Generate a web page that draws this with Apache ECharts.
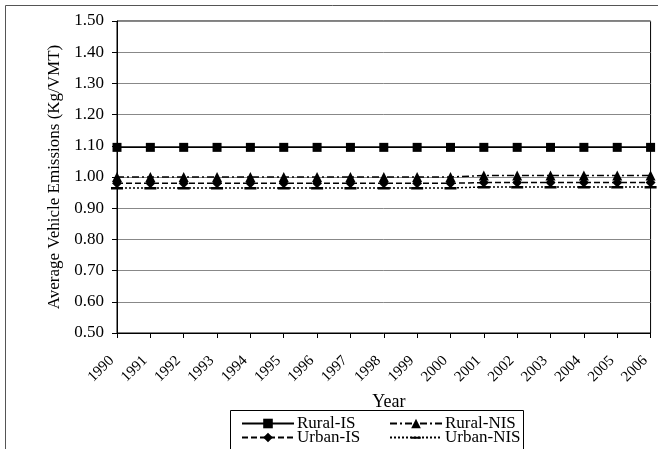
<!DOCTYPE html>
<html><head><meta charset="utf-8">
<script src="https://cdn.jsdelivr.net/npm/echarts@6/dist/echarts.min.js"></script>
<style>html,body{margin:0;padding:0;background:#fff}#c{width:658px;height:449px}</style>
</head><body><div id="c"></div>
<script>
var years = ['1990','1991','1992','1993','1994','1995','1996','1997','1998','1999','2000','2001','2002','2003','2004','2005','2006'];
var ruralIS  = [1.095,1.095,1.095,1.095,1.095,1.095,1.095,1.095,1.095,1.095,1.095,1.095,1.095,1.095,1.095,1.095,1.095];
var ruralNIS = [1.000,1.000,1.000,1.000,1.000,1.000,1.000,1.000,1.000,1.000,1.000,1.005,1.005,1.005,1.005,1.005,1.005];
var urbanIS  = [0.980,0.980,0.980,0.980,0.980,0.980,0.980,0.980,0.980,0.980,0.980,0.982,0.982,0.982,0.982,0.982,0.982];
var urbanNIS = [0.965,0.965,0.965,0.965,0.965,0.965,0.965,0.965,0.965,0.965,0.965,0.968,0.968,0.968,0.968,0.968,0.968];
var yTicks = {min:0.5, max:1.5, interval:0.1};

var F = 'Liberation Serif, Times New Roman, serif';
var chart = echarts.init(document.getElementById('c'), null, {renderer:'canvas'});
function ser(name, data, type, symbol, size) {
  return {name:name, type:'line', data:data, symbol:symbol, symbolSize:size, showSymbol:true,
    itemStyle:{color:'#000'}, lineStyle:{color:'#000', width:1.5, type:type}, animation:false};
}
function leg(name, left, top) {
  return {data:[name], left:left, top:top, padding:0, itemWidth:52, itemHeight:12, itemGap:0,
    textStyle:{fontFamily:F, fontSize:17, color:'#000', padding:[0,0,0,-2]}};
}
chart.setOption({
  backgroundColor:'#fff',
  animation:false,
  graphic:[
    {type:'rect', shape:{x:5.5,y:5.5,width:800,height:800}, style:{fill:null, stroke:'#555', lineWidth:1}, z:-1},
    {type:'rect', shape:{x:230.5,y:410.5,width:293,height:60}, style:{fill:'#fff', stroke:'#000', lineWidth:1}, z:-1}
  ],
  grid:{left:117, right:2, top:21, bottom:116, show:true, borderColor:'#000', borderWidth:1},
  legend:[
    leg('Rural-IS', 241, 415),
    leg('Urban-IS', 241, 429),
    leg('Rural-NIS', 389, 415),
    leg('Urban-NIS', 389, 429)
  ],
  xAxis:{type:'category', data:years, boundaryGap:false,
    name:'Year', nameLocation:'middle', nameGap:60, nameTextStyle:{fontFamily:F, fontSize:18, color:'#000', padding:[0,0,0,10]},
    axisLine:{lineStyle:{color:'#000'}}, axisTick:{show:true, alignWithLabel:true, length:5, lineStyle:{color:'#000'}},
    axisLabel:{rotate:45, fontFamily:F, fontSize:15, color:'#000', margin:20, interval:0,
      formatter:function(v){return v + '\u2002';}},
    splitLine:{show:false}},
  yAxis:{type:'value', min:yTicks.min, max:yTicks.max, interval:yTicks.interval,
    name:'Average Vehicle Emissions (Kg/VMT)', nameLocation:'middle', nameGap:54, nameRotate:90,
    nameTextStyle:{fontFamily:F, fontSize:17, color:'#000'},
    axisLine:{show:true, lineStyle:{color:'#000'}}, axisTick:{show:true, length:5, lineStyle:{color:'#000'}},
    axisLabel:{fontFamily:F, fontSize:17, color:'#000', margin:13, formatter:function(v){return v.toFixed(2);}},
    splitLine:{show:true, lineStyle:{color:'#888', width:1}}},
  series:[
    ser('Rural-IS', ruralIS, 'solid', 'rect', 9),
    ser('Rural-NIS', ruralNIS, [7,3,2,3], 'triangle', 10),
    ser('Urban-IS', urbanIS, [6,3], 'diamond', 10),
    ser('Urban-NIS', urbanNIS, [2,2], 'path://M0,0L0.01,0M0,12L0.01,12M0,5H12V7.5H0Z', 12)
  ]
});
</script></body></html>
